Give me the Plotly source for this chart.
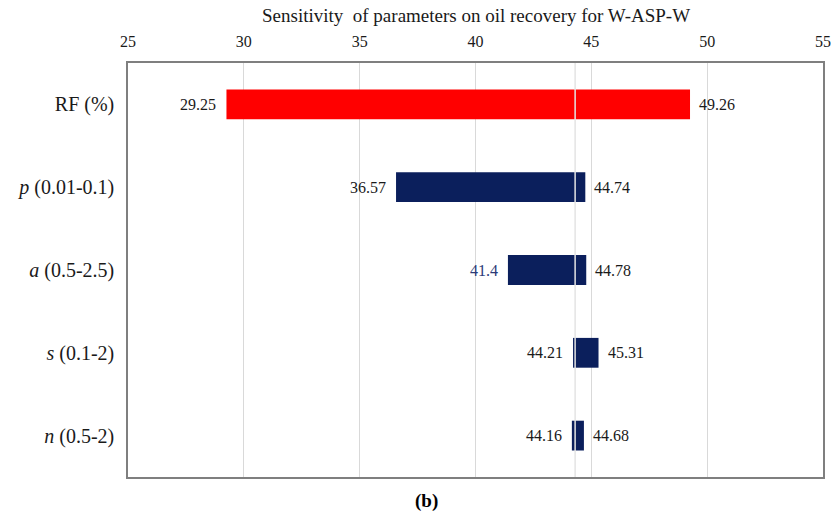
import plotly.graph_objects as go

# 龙卷风图数据
params = ["RF (%)", "<i>p</i> (0.01-0.1)", "<i>a</i> (0.5-2.5)", "<i>s</i> (0.1-2)", "<i>n</i> (0.5-2)"]
low_vals = [29.25, 36.57, 41.4, 44.21, 44.16]
high_vals = [49.26, 44.74, 44.78, 45.31, 44.68]
low_text = ["29.25", "36.57", "41.4", "44.21", "44.16"]
high_text = ["49.26", "44.74", "44.78", "45.31", "44.68"]
base_value = 44.3
x_ticks = [25, 30, 35, 40, 45, 50, 55]

COLORS = {
    "rf": "#FF0000",
    "param": "#0B1F5C",
    "grid": "#D9D9D9",
    "frame": "#7F7F7F",
    "text": "#1A1A1A",
}
SERIF = "Liberation Serif, Times New Roman, serif"

bar_colors = [COLORS["rf"]] + [COLORS["param"]] * (len(params) - 1)
ypos = list(range(len(params)))

fig = go.Figure(
    go.Bar(
        y=ypos,
        x=[h - l for l, h in zip(low_vals, high_vals)],
        base=low_vals,
        orientation="h",
        width=0.36,
        marker=dict(color=bar_colors, line=dict(width=0)),
        hoverinfo="skip",
    )
)

# 基准值竖线（压在柱子上）
fig.add_shape(
    type="line", xref="x", yref="paper", x0=base_value, x1=base_value, y0=0, y1=1,
    line=dict(color="#E4E4E4", width=1.5), layer="above",
)

# 柱两端的数值标签
for i in ypos:
    fig.add_annotation(
        x=low_vals[i], y=i, text=low_text[i], showarrow=False, xanchor="right", xshift=-8,
        font=dict(family=SERIF, size=16, color="#2B3A78" if low_text[i] == "41.4" else COLORS["text"]),
    )
    fig.add_annotation(
        x=high_vals[i], y=i, text=high_text[i], showarrow=False, xanchor="left", xshift=7,
        font=dict(family=SERIF, size=16, color=COLORS["text"]),
    )

fig.add_annotation(
    xref="paper", yref="paper", x=0.5, y=1, yshift=35, yanchor="bottom",
    text="Sensitivity  of parameters on oil recovery for W-ASP-W", showarrow=False,
    font=dict(family=SERIF, size=19, color=COLORS["text"]),
)
fig.add_annotation(
    xref="paper", yref="paper", x=0.43, y=0, yshift=-11, yanchor="top",
    text="<b>(b)</b>", showarrow=False,
    font=dict(family=SERIF, size=19, color="#000000"),
)

fig.update_layout(
    width=838,
    height=515,
    paper_bgcolor="white",
    plot_bgcolor="white",
    showlegend=False,
    margin=dict(l=128, r=7, t=63, b=38),
    xaxis=dict(
        range=[25, 55],
        side="top",
        tickvals=x_ticks,
        ticks="",
        ticklabelstandoff=8,
        showgrid=True,
        gridcolor=COLORS["grid"],
        gridwidth=1,
        zeroline=False,
        showline=True,
        linecolor=COLORS["frame"],
        linewidth=1.5,
        mirror=True,
        tickfont=dict(family=SERIF, size=16, color=COLORS["text"]),
    ),
    yaxis=dict(
        range=[4.5, -0.5],
        tickvals=ypos,
        ticktext=params,
        ticks="",
        ticklabelstandoff=8,
        showgrid=False,
        zeroline=False,
        showline=True,
        linecolor=COLORS["frame"],
        linewidth=1.5,
        mirror=True,
        tickfont=dict(family=SERIF, size=20, color=COLORS["text"]),
    ),
)

# 去掉页面默认边距，让图正好填满窗口
fig.write_html(
    "out.html",
    config={"displayModeBar": False},
    post_script="document.body.style.margin='0';",
)
